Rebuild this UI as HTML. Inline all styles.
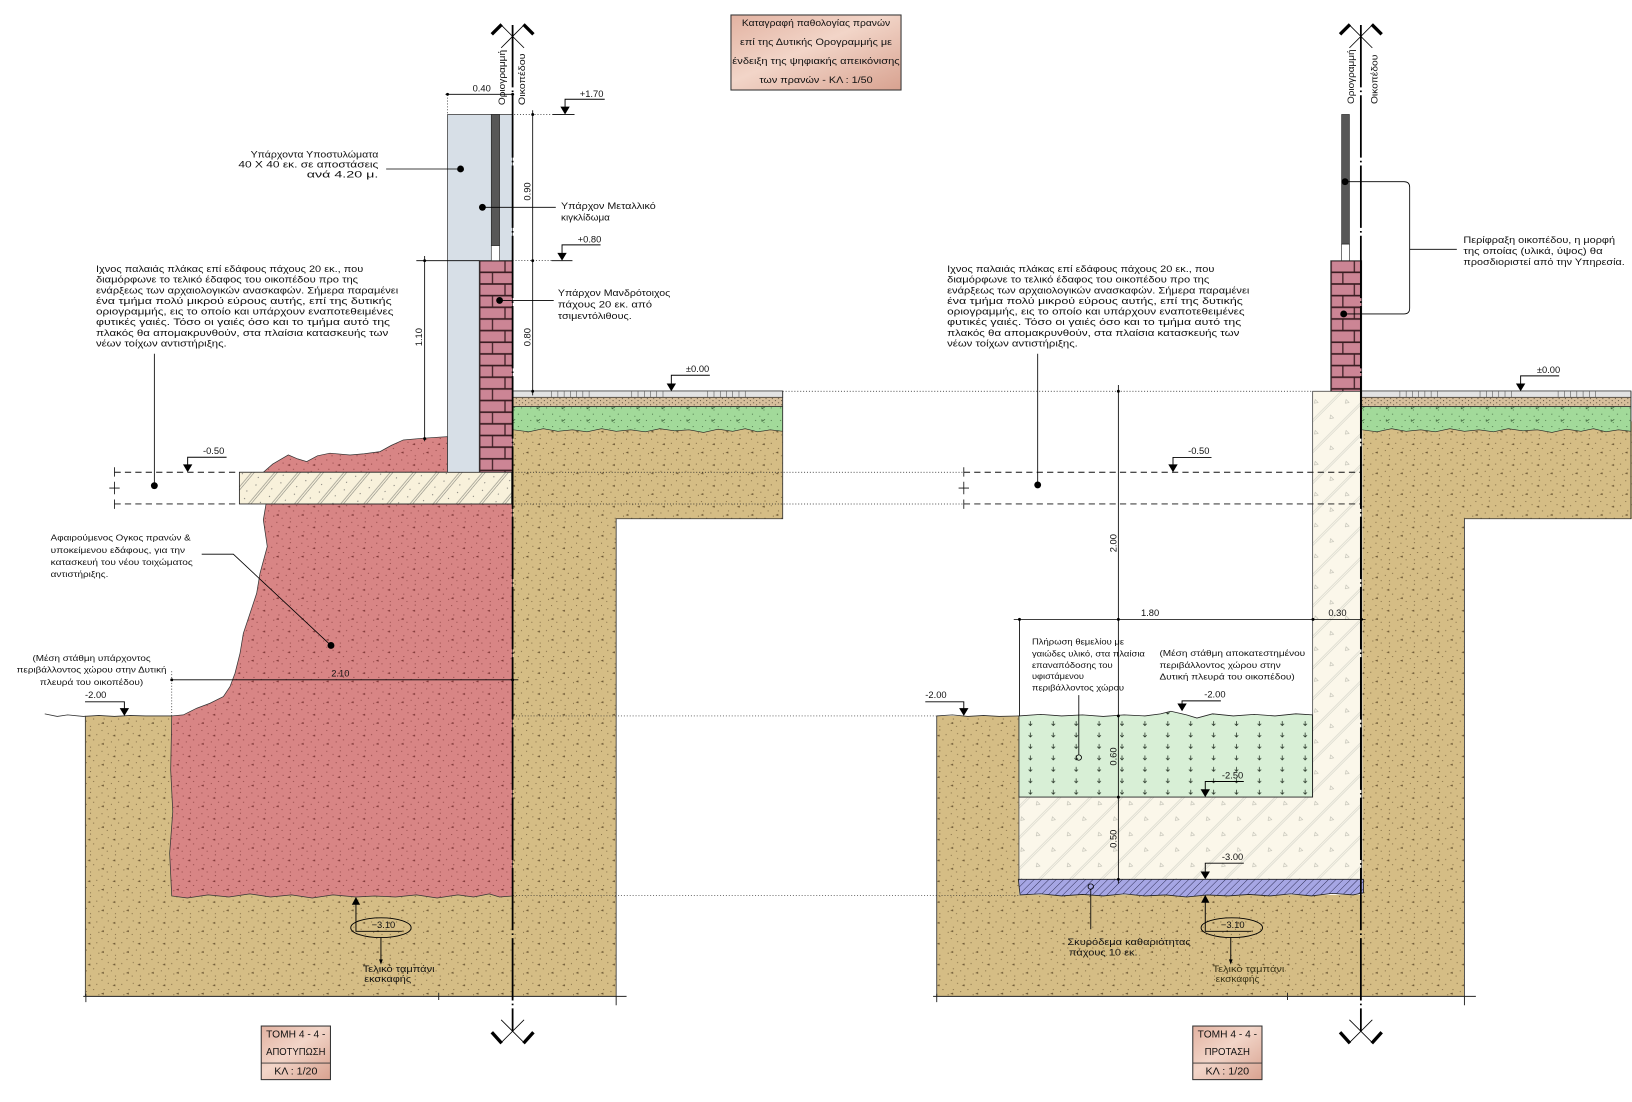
<!DOCTYPE html>
<html><head><meta charset="utf-8">
<style>
html,body{margin:0;padding:0;background:#fff;}
svg{display:block;}
text{font-family:"Liberation Sans",sans-serif;fill:#111;}
.c{font-size:8.6px;}
.d{font-size:9px;}
.a{font-size:8.3px;fill:#222;}
</style></head><body>
<svg width="1632" height="1102" viewBox="0 0 1568 1059" preserveAspectRatio="none" xmlns="http://www.w3.org/2000/svg">
<defs>
<pattern id="soil" patternUnits="userSpaceOnUse" width="24" height="20">
<rect width="24" height="20" fill="#d5bd85"/>
<g fill="#6a5532"><circle cx="2" cy="2" r=".5"/><circle cx="8" cy="5" r=".5"/><circle cx="15" cy="1.5" r=".5"/><circle cx="21" cy="6" r=".5"/><circle cx="4" cy="11" r=".5"/><circle cx="11" cy="13" r=".5"/><circle cx="18" cy="11" r=".5"/><circle cx="23" cy="16" r=".5"/><circle cx="7" cy="18" r=".5"/><circle cx="15" cy="18" r=".5"/>
<path d="M12 7l2.6-1.2.3 2z"/><path d="M1 15l2.6-1.2.3 2z"/></g></pattern>
<pattern id="red" patternUnits="userSpaceOnUse" width="24" height="20">
<rect width="24" height="20" fill="#d88585"/>
<g fill="#7d3535"><circle cx="2" cy="2" r=".5"/><circle cx="8" cy="5" r=".5"/><circle cx="15" cy="1.5" r=".5"/><circle cx="21" cy="6" r=".5"/><circle cx="4" cy="11" r=".5"/><circle cx="11" cy="13" r=".5"/><circle cx="18" cy="11" r=".5"/><circle cx="23" cy="16" r=".5"/><circle cx="7" cy="18" r=".5"/><circle cx="15" cy="18" r=".5"/>
<path d="M12 7l2.6-1.2.3 2z"/><path d="M1 15l2.6-1.2.3 2z"/></g></pattern>
<pattern id="sand" patternUnits="userSpaceOnUse" width="6" height="4">
<rect width="6" height="4" fill="#d7bf9c"/>
<circle cx="1" cy="1" r=".5" fill="#3a3020"/><circle cx="4" cy="3" r=".5" fill="#3a3020"/></pattern>
<pattern id="grn" patternUnits="userSpaceOnUse" width="24" height="12">
<rect width="24" height="12" fill="#a2da9a"/>
<g fill="#224422"><circle cx="3" cy="2" r=".45"/><circle cx="10" cy="4" r=".45"/><circle cx="18" cy="2" r=".45"/><circle cx="6" cy="8" r=".45"/><circle cx="14" cy="10" r=".45"/><circle cx="21" cy="8" r=".45"/></g>
<path d="M12 9l3-2M12 9v-2" stroke="#224422" stroke-width=".6" fill="none"/></pattern>
<pattern id="slab" patternUnits="userSpaceOnUse" width="17" height="17" patternTransform="rotate(40)">
<rect width="17" height="17" fill="#f8f1db"/>
<path d="M1 0v17M3 0v17" stroke="#8a8a80" stroke-width=".6"/>
<circle cx="9" cy="5" r=".5" fill="#555"/><circle cx="12" cy="12" r=".5" fill="#555"/></pattern>
<pattern id="cream" patternUnits="userSpaceOnUse" width="21" height="21" patternTransform="rotate(45)">
<rect width="21" height="21" fill="#fbf7ea"/>
<path d="M1 0v21M2.6 0v21" stroke="#d2d2c8" stroke-width=".6"/>
<path d="M10 8h4l-2 3z" fill="none" stroke="#b5b5aa" stroke-width=".5"/></pattern>
<pattern id="lg" patternUnits="userSpaceOnUse" x="979" y="690" width="22" height="11">
<rect width="22" height="11" fill="#d8efd6"/>
<path d="M11 3v4M9.3 5.5l1.7 1.8 1.7-1.8" stroke="#1d2a1d" stroke-width=".7" fill="none"/></pattern>
<pattern id="blue" patternUnits="userSpaceOnUse" width="5" height="5" patternTransform="rotate(45)">
<rect width="5" height="5" fill="#a6a6e4"/>
<path d="M0 0v5" stroke="#2a2a50" stroke-width=".9"/></pattern>
<pattern id="brL" patternUnits="userSpaceOnUse" x="460.5" y="250.5" width="32" height="22.4">
<rect width="32" height="22.4" fill="#3a1d22"/>
<rect x="1.1" y="0.8" width="23" height="9.6" fill="#cc8595"/><rect x="25.3" y="0.8" width="6.7" height="9.6" fill="#cc8595"/>
<rect x="1.1" y="12" width="11" height="9.6" fill="#cc8595"/><rect x="13.3" y="12" width="18.7" height="9.6" fill="#cc8595"/></pattern>
<pattern id="brR" patternUnits="userSpaceOnUse" x="1278.5" y="250.5" width="29.8" height="22.4">
<rect width="29.8" height="22.4" fill="#3a1d22"/>
<rect x="1.1" y="0.8" width="21" height="9.6" fill="#cc8595"/><rect x="23.3" y="0.8" width="6.5" height="9.6" fill="#cc8595"/>
<rect x="1.1" y="12" width="10" height="9.6" fill="#cc8595"/><rect x="12.3" y="12" width="17.5" height="9.6" fill="#cc8595"/></pattern>
<linearGradient id="tg" x1="0" x2="1" y1="0" y2="1">
<stop offset="0" stop-color="#e2b2a1"/><stop offset=".45" stop-color="#f2d5c8"/><stop offset="1" stop-color="#d8a290"/></linearGradient>
</defs>

<!-- ===== TITLE ===== -->
<rect x="702.3" y="14.4" width="163.4" height="72.1" fill="url(#tg)" stroke="#333" stroke-width="1"/>
<g font-size="9" text-anchor="middle">
<text x="784" y="25" textLength="142.5" lengthAdjust="spacingAndGlyphs">Καταγραφή παθολογίας πρανών</text>
<text x="784" y="43.3" textLength="146" lengthAdjust="spacingAndGlyphs">επί της Δυτικής Ορογραμμής με</text>
<text x="784" y="61.6" textLength="160.8" lengthAdjust="spacingAndGlyphs">ένδειξη της ψηφιακής απεικόνισης</text>
<text x="784" y="80" textLength="108.9" lengthAdjust="spacingAndGlyphs">των πρανών  - ΚΛ : 1/50</text>
</g>

<!-- ===== LEFT SECTION ===== -->
<path d="M493,405 H752 V498.5 H592 V957.5 H82 V688 H493 Z" fill="url(#soil)"/>
<path d="M253,453.8 L262,446 L277,437.2 L286,441 L294.7,443.6 L305,438 L317,435.5 L336.3,437.2 L350,436 L365.1,434 L376,428 L387.5,422.8 L406.7,421.1 L430,419.6 L430,453.8 Z" fill="url(#red)" stroke="#333" stroke-width=".7"/>
<path d="M255.6,484.3 L492.5,484.3 L492.5,861 L480,862 L470,859 L455,862 L440,860 L420,863 L400,860 L380,862 L360,861 L342,862 L320,860 L300,863 L280,860 L260,862 L240,859 L220,862 L200,860 L180,863 L165,861 L163,820 L166,780 L164,740 L165,688 L176.1,687 L189,680.6 L201.8,675.8 L214.6,669.4 L221,659.8 L225.8,647 L230.6,627.8 L233.8,608.6 L240.2,589.4 L246.6,570.1 L249.8,550.9 L256.8,525.2 L253,499.6 Z" fill="url(#red)" stroke="#333" stroke-width=".7"/>
<rect x="230" y="453.8" width="261.6" height="30.5" fill="url(#slab)" stroke="#222" stroke-width=".8"/>
<path d="M430,110 H492.5 V250.5 H460.5 V453.8 H430 Z" fill="#d7dfe7" stroke="#333" stroke-width=".7"/>
<rect x="460.5" y="250.5" width="32" height="203.3" fill="url(#brL)" stroke="#333" stroke-width=".7"/>
<rect x="472" y="110" width="8" height="126" fill="#575757" stroke="#222" stroke-width=".6"/>
<rect x="472" y="236" width="8" height="14.5" fill="#fff" stroke="#222" stroke-width=".6"/>
<rect x="493" y="375.7" width="259" height="6.1" fill="#e3e3e3" stroke="#222" stroke-width=".7"/>
<path d="M530,376v6M536,376v6M542,376v6M548,376v6M554,376v6M560,376v6M566,376v6M607,376v6M613,376v6M619,376v6M625,376v6M631,376v6M637,376v6M680,376v6M686,376v6M692,376v6M698,376v6M704,376v6M710,376v6M716,376v6" stroke="#444" stroke-width=".5"/>
<rect x="493" y="381.8" width="259" height="8.9" fill="url(#sand)" stroke="#222" stroke-width=".6"/>
<path d="M493,390.7 H752 V414.5 L740,413 L728,415 L716,412 L704,414.5 L690,412.5 L676,415.5 L662,413 L648,414 L634,412 L620,415 L606,413 L592,414.5 L578,412 L564,415 L550,413 L536,414.5 L522,412 L508,415 L493,413 Z" fill="url(#grn)" stroke="#222" stroke-width=".6"/>
<path d="M752,376 V498.5 H592 V957.5 M82,957.5 V688" fill="none" stroke="#333" stroke-width=".8"/>
<path d="M43,686 L55,688.5 L65,687 L80,688.5 L95,687.5 L110,688.5 L125,687.5 L140,688 L165,688" fill="none" stroke="#333" stroke-width=".8"/>
<path d="M80,957.5 H602 M82.5,955 V963 M592,957.5 V966 M421.5,954 V961" stroke="#222" stroke-width=".9" fill="none"/>

<!-- ===== RIGHT SECTION ===== -->
<path d="M1309,405 H1568 V498.5 H1407 V957.5 H900 V688 H979 V860 H1309 Z" fill="url(#soil)"/>
<path d="M1261.2,376 H1308.3 V845 H979 V766 H1261.2 Z" fill="url(#cream)" stroke="#333" stroke-width=".7"/>
<path d="M979,688 L1000,686.5 L1020,688 L1040,687 L1060,688.5 L1080,687 L1100,688 L1115,686 L1125,683.5 L1140,687 L1150,690 L1165,686 L1185,688 L1205,686.5 L1225,688 L1245,686 L1261,687 V766 H979 Z" fill="url(#lg)" stroke="#222" stroke-width=".8"/>
<path d="M978.4,845 H1310 V858 L1300,860 L1280,858.5 L1260,861 L1240,859 L1220,861 L1200,859.5 L1180,861 L1160,860 L1140,862 L1120,860 L1100,861 L1080,859 L1060,861 L1040,859.5 L1020,861 L1000,859 L980,860 Z" fill="url(#blue)" stroke="#222" stroke-width=".8"/>
<rect x="1278.5" y="250.5" width="29.8" height="125.5" fill="url(#brR)" stroke="#333" stroke-width=".7"/>
<rect x="1289" y="110" width="7.5" height="124.6" fill="#575757" stroke="#222" stroke-width=".6"/>
<rect x="1289" y="234.6" width="7.5" height="15.9" fill="#fff" stroke="#222" stroke-width=".6"/>
<rect x="1308.3" y="375.7" width="258.7" height="6.1" fill="#e3e3e3" stroke="#222" stroke-width=".7"/>
<path d="M1345,376v6M1351,376v6M1357,376v6M1363,376v6M1369,376v6M1375,376v6M1381,376v6M1422,376v6M1428,376v6M1434,376v6M1440,376v6M1446,376v6M1452,376v6M1497,376v6M1503,376v6M1509,376v6M1515,376v6M1521,376v6M1527,376v6M1533,376v6" stroke="#444" stroke-width=".5"/>
<rect x="1308.3" y="381.8" width="258.7" height="8.9" fill="url(#sand)" stroke="#222" stroke-width=".6"/>
<path d="M1308.3,390.7 H1567 V414.5 L1555,413 L1543,415 L1531,412 L1519,414.5 L1505,412.5 L1491,415.5 L1477,413 L1463,414 L1449,412 L1435,415 L1421,413 L1407,414.5 L1393,412 L1379,415 L1365,413 L1351,414.5 L1337,412 L1323,415 L1308.3,413 Z" fill="url(#grn)" stroke="#222" stroke-width=".6"/>
<path d="M1567,376 V498.5 H1407 V957.5 M900,688 V957.5" fill="none" stroke="#333" stroke-width=".8"/>
<path d="M900,688 L915,687 L930,688.5 L945,687.5 L960,688.5 L979,688" fill="none" stroke="#333" stroke-width=".8"/>
<path d="M896.5,957.5 H1418 M900,955 V963 M1407,957.5 V966 M1237,954 V961" stroke="#222" stroke-width=".9" fill="none"/>

<!-- ===== connecting dotted / dashed lines ===== -->
<g stroke="#222" stroke-width=".7" stroke-dasharray="1 1.8" fill="none">
<path d="M752,376 H1261"/>
<path d="M492.5,453.8 H926 M492.5,484.3 H926"/>
<path d="M493,688 H900"/>
<path d="M493,860.5 H979"/>
<path d="M494,110 H531 M492.5,250.5 H530"/>
<path d="M430,91 V110"/>
<path d="M165,645 V688"/>
</g>
<g stroke="#111" stroke-width=".9" stroke-dasharray="6 4" fill="none">
<path d="M110,453.8 H230 M110,484.3 H230"/>
<path d="M926,453.8 H1307.5 M926,484.3 H1307.5"/>
</g>
<path d="M110,449V458M110,480V489M105,469H115M110,463V475M926,449V458M926,480V489M921,469H931M926,463V475" stroke="#111" stroke-width=".8"/>

<!-- ===== axes ===== -->
<g stroke="#000" fill="none">
<path d="M492.5,24 V991" stroke-width="1.7" stroke-dasharray="60 3 1.5 3"/>
<path d="M1307.5,24 V991" stroke-width="1.7" stroke-dasharray="60 3 1.5 3"/>
<path d="M481.5,24 L503.5,46 M503.5,24 L481.5,46 M1296.5,24 L1318.5,46 M1318.5,24 L1296.5,46" stroke-width=".8"/>
<path d="M472.5,33 L482,23.5 M512.5,33 L503,23.5 M1287.5,33 L1297,23.5 M1327.5,33 L1318,23.5" stroke-width="3.2"/>
<path d="M481.5,980 L503.5,1002 M503.5,980 L481.5,1002 M1296.5,980 L1318.5,1002 M1318.5,980 L1296.5,1002" stroke-width=".8"/>
<path d="M472.5,992 L482,1002.5 M512.5,992 L503,1002.5 M1287.5,992 L1297,1002.5 M1327.5,992 L1318,1002.5" stroke-width="3.2"/>
</g>
<g font-size="9">
<text transform="translate(485,101) rotate(-90)" textLength="53" lengthAdjust="spacingAndGlyphs">Οριογραμμή</text>
<text transform="translate(504.5,101) rotate(-90)" textLength="49.6" lengthAdjust="spacingAndGlyphs">Οικοπέδου</text>
<text transform="translate(1301,100) rotate(-90)" textLength="52.5" lengthAdjust="spacingAndGlyphs">Οριογραμμή</text>
<text transform="translate(1323.5,100) rotate(-90)" textLength="47.5" lengthAdjust="spacingAndGlyphs">Οικοπέδου</text>
</g>

<!-- ===== dimensions ===== -->
<g stroke="#000" stroke-width=".8" fill="none">
<path d="M428,90.6 H494"/>
<path d="M511.8,106 V380"/>
<path d="M408,246 V424"/>
<path d="M400,250.5 H460.5 M530,250.5 H550 M531,110 H552"/>
<path d="M165,653.3 H498"/>
<path d="M974,595.2 H1312"/>
<path d="M979.5,595.2 V688"/>
<path d="M1074.5,370 V849"/>
</g>
<g fill="#000">
<circle cx="430" cy="90.6" r="1.4"/><circle cx="492.5" cy="90.6" r="1.4"/>
<circle cx="511.8" cy="110" r="1.4"/><circle cx="511.8" cy="250.5" r="1.4"/><circle cx="511.8" cy="376" r="1.4"/>
<circle cx="408" cy="250.5" r="1.4"/><circle cx="408" cy="421.5" r="1.4"/>
<circle cx="165" cy="653.3" r="1.4"/><circle cx="492.5" cy="653.3" r="1.4"/>
<circle cx="979.5" cy="595.2" r="1.4"/><circle cx="1261.5" cy="595.2" r="1.4"/><circle cx="1308" cy="595.2" r="1.4"/>
<circle cx="1074.5" cy="376" r="1.4"/><circle cx="1074.5" cy="688" r="1.4"/><circle cx="1074.5" cy="766" r="1.4"/><circle cx="1074.5" cy="845" r="1.4"/><circle cx="1074.5" cy="595.2" r="1.4"/>
</g>
<g class="d">
<text x="462.8" y="88" text-anchor="middle">0.40</text>
<text transform="translate(509.5,184) rotate(-90)" text-anchor="middle">0.90</text>
<text transform="translate(509.5,324) rotate(-90)" text-anchor="middle">0.80</text>
<text transform="translate(405.5,324) rotate(-90)" text-anchor="middle">1.10</text>
<text x="327" y="650" text-anchor="middle">2.10</text>
<text x="1105" y="592" text-anchor="middle">1.80</text>
<text x="1285" y="592" text-anchor="middle">0.30</text>
<text transform="translate(1072.5,522) rotate(-90)" text-anchor="middle">2.00</text>
<text transform="translate(1072.5,727) rotate(-90)" text-anchor="middle">0.60</text>
<text transform="translate(1072.5,806) rotate(-90)" text-anchor="middle">0.50</text>
</g>

<!-- ===== level markers ===== -->
<g fill="#000">
<path d="M538.4,102.5 L542.9,110 L547.4,102.5Z"/>
<path d="M535.5,243 L540,250.5 L544.5,243Z"/>
<path d="M640.5,368.5 L645,376 L649.5,368.5Z"/>
<path d="M175.8,446.3 L180.3,453.8 L184.8,446.3Z"/>
<path d="M115,680.5 L119.5,688 L124,680.5Z"/>
<path d="M1456.5,368.5 L1461,376 L1465.5,368.5Z"/>
<path d="M1122.5,446.3 L1127,453.8 L1131.5,446.3Z"/>
<path d="M921.5,680.5 L926,688 L930.5,680.5Z"/>
<path d="M1131.2,676 L1135.7,683.5 L1140.2,676Z"/>
<path d="M1153.5,758.5 L1158,766 L1162.5,758.5Z"/>
<path d="M1153.5,837.5 L1158,845 L1162.5,837.5Z"/>
<path d="M342,862 L338,869.5 L346,869.5Z"/>
<path d="M1158,860 L1154,867.5 L1162,867.5Z"/>
</g>
<g stroke="#000" stroke-width=".9" fill="none">
<path d="M542.9,103 V95.4 H581"/>
<path d="M540,243.5 V235.3 H577"/>
<path d="M645,369 V360.6 H682"/>
<path d="M180.3,447 V439.4 H217.7"/>
<path d="M119.5,681 V674.4 H81.7"/>
<path d="M1461,369 V361.2 H1498"/>
<path d="M1127,447 V439.6 H1164"/>
<path d="M926,681 V674.4 H889"/>
<path d="M1135.7,676.5 V673.5 H1173"/>
<path d="M1158,759 V751 H1195"/>
<path d="M1158,838 V829.5 H1195"/>
<path d="M342,869 V895 H386"/>
<path d="M1158,867 V895 H1202"/>
<ellipse cx="366" cy="891.5" rx="29" ry="9.5"/>
<ellipse cx="1183.5" cy="891.5" rx="29.5" ry="9.5"/>
<path d="M366,901 V925 M1182.5,901 V925"/>
</g>
<path d="M366,927 l-1.8,-5 h3.6z M1182.5,927 l-1.8,-5 h3.6z" fill="#000"/>
<g class="d">
<text x="557" y="93.3">+1.70</text>
<text x="555" y="233">+0.80</text>
<text x="659" y="357.5">±0.00</text>
<text x="1476.6" y="358.5">±0.00</text>
<text x="195" y="436.5">-0.50</text>
<text x="1141.5" y="436.5">-0.50</text>
<text x="81.7" y="671">-2.00</text>
<text x="889" y="671">-2.00</text>
<text x="1157" y="670.5">-2.00</text>
<text x="1174" y="748">-2.50</text>
<text x="1174" y="826.5">-3.00</text>
<text x="357" y="892">−3.10</text>
<text x="1173" y="892">−3.10</text>
</g>

<!-- ===== leaders ===== -->
<g stroke="#000" stroke-width=".8" fill="none">
<path d="M148.3,340 V466.7"/>
<path d="M997,340 V466"/>
<path d="M371,162.4 H442.5"/>
<path d="M463.5,199.2 H534"/>
<path d="M480,288.7 H532"/>
<path d="M193.8,532.6 H224.2 L318,620.3"/>
<path d="M1292.3,174.6 H1349 Q1354.4,174.6 1354.4,180 V296 Q1354.4,301.7 1349,301.7 H1291 M1354.4,239.6 H1399.7"/>
<path d="M1036.5,668 V725.3"/>
<circle cx="1036.5" cy="728" r="2.6"/>
<circle cx="1048" cy="852" r="2.6"/>
<path d="M1048,854.6 V893"/>
</g>
<g fill="#000">
<circle cx="148.3" cy="466.7" r="3.3"/><circle cx="997" cy="466" r="3.3"/>
<circle cx="442.5" cy="162.4" r="3.3"/><circle cx="463.5" cy="199.2" r="3.3"/><circle cx="480" cy="288.7" r="3.3"/>
<circle cx="318" cy="620.3" r="3.3"/>
<circle cx="1292.3" cy="174.6" r="3.3"/><circle cx="1291" cy="301.7" r="3.3"/>
</g>

<!-- ===== CAD texts ===== -->
<g class="c">
<text x="92.2" y="261.5" textLength="256.8" lengthAdjust="spacingAndGlyphs">Ιχνος παλαιάς πλάκας επί εδάφους πάχους 20 εκ., που</text>
<text x="92.2" y="271.7" textLength="251.8" lengthAdjust="spacingAndGlyphs">διαμόρφωνε το τελικό έδαφος του οικοπέδου προ της</text>
<text x="92.2" y="281.9" textLength="290.4" lengthAdjust="spacingAndGlyphs">ενάρξεως των αρχαιολογικών ανασκαφών. Σήμερα παραμένει</text>
<text x="92.2" y="292.1" textLength="284.1" lengthAdjust="spacingAndGlyphs">ένα τμήμα πολύ μικρού εύρους αυτής, επί της δυτικής</text>
<text x="92.2" y="302.3" textLength="285.8" lengthAdjust="spacingAndGlyphs">οριογραμμής, εις το οποίο και υπάρχουν εναποτεθειμένες</text>
<text x="92.2" y="312.5" textLength="282.5" lengthAdjust="spacingAndGlyphs">φυτικές γαιές. Τόσο οι γαιές όσο και το τμήμα αυτό της</text>
<text x="92.2" y="322.7" textLength="280.8" lengthAdjust="spacingAndGlyphs">πλακός θα απομακρυνθούν, στα πλαίσια κατασκευής των</text>
<text x="92.2" y="332.9" textLength="125.6" lengthAdjust="spacingAndGlyphs">νέων τοίχων αντιστήριξης.</text>

<text x="910" y="261.5" textLength="256.8" lengthAdjust="spacingAndGlyphs">Ιχνος παλαιάς πλάκας επί εδάφους πάχους 20 εκ., που</text>
<text x="910" y="271.7" textLength="251.8" lengthAdjust="spacingAndGlyphs">διαμόρφωνε το τελικό έδαφος του οικοπέδου προ της</text>
<text x="910" y="281.9" textLength="290.4" lengthAdjust="spacingAndGlyphs">ενάρξεως των αρχαιολογικών ανασκαφών. Σήμερα παραμένει</text>
<text x="910" y="292.1" textLength="284.1" lengthAdjust="spacingAndGlyphs">ένα τμήμα πολύ μικρού εύρους αυτής, επί της δυτικής</text>
<text x="910" y="302.3" textLength="285.8" lengthAdjust="spacingAndGlyphs">οριογραμμής, εις το οποίο και υπάρχουν εναποτεθειμένες</text>
<text x="910" y="312.5" textLength="282.5" lengthAdjust="spacingAndGlyphs">φυτικές γαιές. Τόσο οι γαιές όσο και το τμήμα αυτό της</text>
<text x="910" y="322.7" textLength="280.8" lengthAdjust="spacingAndGlyphs">πλακός θα απομακρυνθούν, στα πλαίσια κατασκευής των</text>
<text x="910" y="332.9" textLength="125.6" lengthAdjust="spacingAndGlyphs">νέων τοίχων αντιστήριξης.</text>

<text x="240.8" y="151.5" textLength="122.7" lengthAdjust="spacingAndGlyphs">Υπάρχοντα Υποστυλώματα</text>
<text x="229" y="161.1" textLength="134.5" lengthAdjust="spacingAndGlyphs">40 Χ 40 εκ. σε αποστάσεις</text>
<text x="294.7" y="170.7" textLength="68.8" lengthAdjust="spacingAndGlyphs">ανά 4.20 μ.</text>

<text x="539" y="201" textLength="91" lengthAdjust="spacingAndGlyphs">Υπάρχον Μεταλλικό</text>
<text x="539" y="212" textLength="47" lengthAdjust="spacingAndGlyphs">κιγκλίδωμα</text>

<text x="536" y="284.5" textLength="108" lengthAdjust="spacingAndGlyphs">Υπάρχον Μανδρότοιχος</text>
<text x="536" y="295.5" textLength="90.5" lengthAdjust="spacingAndGlyphs">πάχους 20 εκ. από</text>
<text x="536" y="306.5" textLength="71" lengthAdjust="spacingAndGlyphs">τσιμεντόλιθους.</text>

<text x="1406" y="233.5" textLength="145.7" lengthAdjust="spacingAndGlyphs">Περίφραξη οικοπέδου, η μορφή</text>
<text x="1406" y="244" textLength="133.8" lengthAdjust="spacingAndGlyphs">της οποίας (υλικά, ύψος) θα</text>
<text x="1406" y="254.5" textLength="155" lengthAdjust="spacingAndGlyphs">προσδιοριστεί από την Υπηρεσία.</text>

<text x="348.5" y="934" textLength="69" lengthAdjust="spacingAndGlyphs">Τελικό ταμπάνι</text>
<text x="350" y="943.5" textLength="45" lengthAdjust="spacingAndGlyphs">εκσκαφής</text>
<text x="1165" y="934" textLength="69" lengthAdjust="spacingAndGlyphs" style="fill:#3a3418">Τελικό ταμπάνι</text>
<text x="1168" y="943.5" textLength="42" lengthAdjust="spacingAndGlyphs" style="fill:#3a3418">εκσκαφής</text>

<text x="1025.5" y="908" textLength="118.5" lengthAdjust="spacingAndGlyphs">Σκυρόδεμα καθαριότητας</text>
<text x="1027" y="918" textLength="66" lengthAdjust="spacingAndGlyphs">πάχους 10 εκ.</text>
</g>

<g class="a">
<text x="48.7" y="519.5" textLength="134.5" lengthAdjust="spacingAndGlyphs">Αφαιρούμενος Ογκος πρανών &amp;</text>
<text x="48.7" y="531.3" textLength="129.1" lengthAdjust="spacingAndGlyphs">υποκείμενου εδάφους, για την</text>
<text x="48.7" y="543" textLength="136.5" lengthAdjust="spacingAndGlyphs">κατασκευή του νέου τοιχώματος</text>
<text x="48.7" y="554.5" textLength="55.4" lengthAdjust="spacingAndGlyphs">αντιστήριξης.</text>

<text x="88" y="635" text-anchor="middle" textLength="113.6" lengthAdjust="spacingAndGlyphs">(Μέση στάθμη υπάρχοντος</text>
<text x="88" y="646.5" text-anchor="middle" textLength="144" lengthAdjust="spacingAndGlyphs">περιβάλλοντος χώρου στην Δυτική</text>
<text x="88" y="658.3" text-anchor="middle" textLength="99.3" lengthAdjust="spacingAndGlyphs">πλευρά του οικοπέδου)</text>

<text x="991.5" y="619.5" textLength="88.5" lengthAdjust="spacingAndGlyphs">Πλήρωση θεμελίου με</text>
<text x="991.5" y="631" textLength="108.5" lengthAdjust="spacingAndGlyphs">γαιώδες υλικό, στα πλαίσια</text>
<text x="991.5" y="641.8" textLength="77.5" lengthAdjust="spacingAndGlyphs">επαναπόδοσης του</text>
<text x="991.5" y="652.6" textLength="50" lengthAdjust="spacingAndGlyphs">υφιστάμενου</text>
<text x="991.5" y="663.4" textLength="88.5" lengthAdjust="spacingAndGlyphs">περιβάλλοντος χώρου</text>

<text x="1114" y="630.5" textLength="140" lengthAdjust="spacingAndGlyphs">(Μέση στάθμη αποκατεστημένου</text>
<text x="1114" y="642" textLength="116.5" lengthAdjust="spacingAndGlyphs">περιβάλλοντος χώρου στην</text>
<text x="1114" y="653" textLength="130" lengthAdjust="spacingAndGlyphs">Δυτική πλευρά του οικοπέδου)</text>
</g>

<!-- ===== bottom title boxes ===== -->
<g>
<rect x="251" y="986" width="66.5" height="51.5" fill="url(#tg)" stroke="#333" stroke-width="1"/>
<path d="M251,1021.6 H317.5" stroke="#333" stroke-width=".8"/>
<rect x="1146" y="986" width="66.5" height="51.5" fill="url(#tg)" stroke="#333" stroke-width="1"/>
<path d="M1146,1021.6 H1212.5" stroke="#333" stroke-width=".8"/>
</g>
<g font-size="9.5" text-anchor="middle">
<text x="284.2" y="997" textLength="57" lengthAdjust="spacingAndGlyphs">ΤΟΜΗ 4 - 4 -</text>
<text x="284.2" y="1014" textLength="57" lengthAdjust="spacingAndGlyphs">ΑΠΟΤΥΠΩΣΗ</text>
<text x="284.2" y="1032.5" textLength="41.5" lengthAdjust="spacingAndGlyphs">ΚΛ : 1/20</text>
<text x="1179.2" y="997" textLength="57" lengthAdjust="spacingAndGlyphs">ΤΟΜΗ 4 - 4 -</text>
<text x="1179.2" y="1014" textLength="43.5" lengthAdjust="spacingAndGlyphs">ΠΡΟΤΑΣΗ</text>
<text x="1179.2" y="1032.5" textLength="42" lengthAdjust="spacingAndGlyphs">ΚΛ : 1/20</text>
</g>
</svg>
</body></html>
